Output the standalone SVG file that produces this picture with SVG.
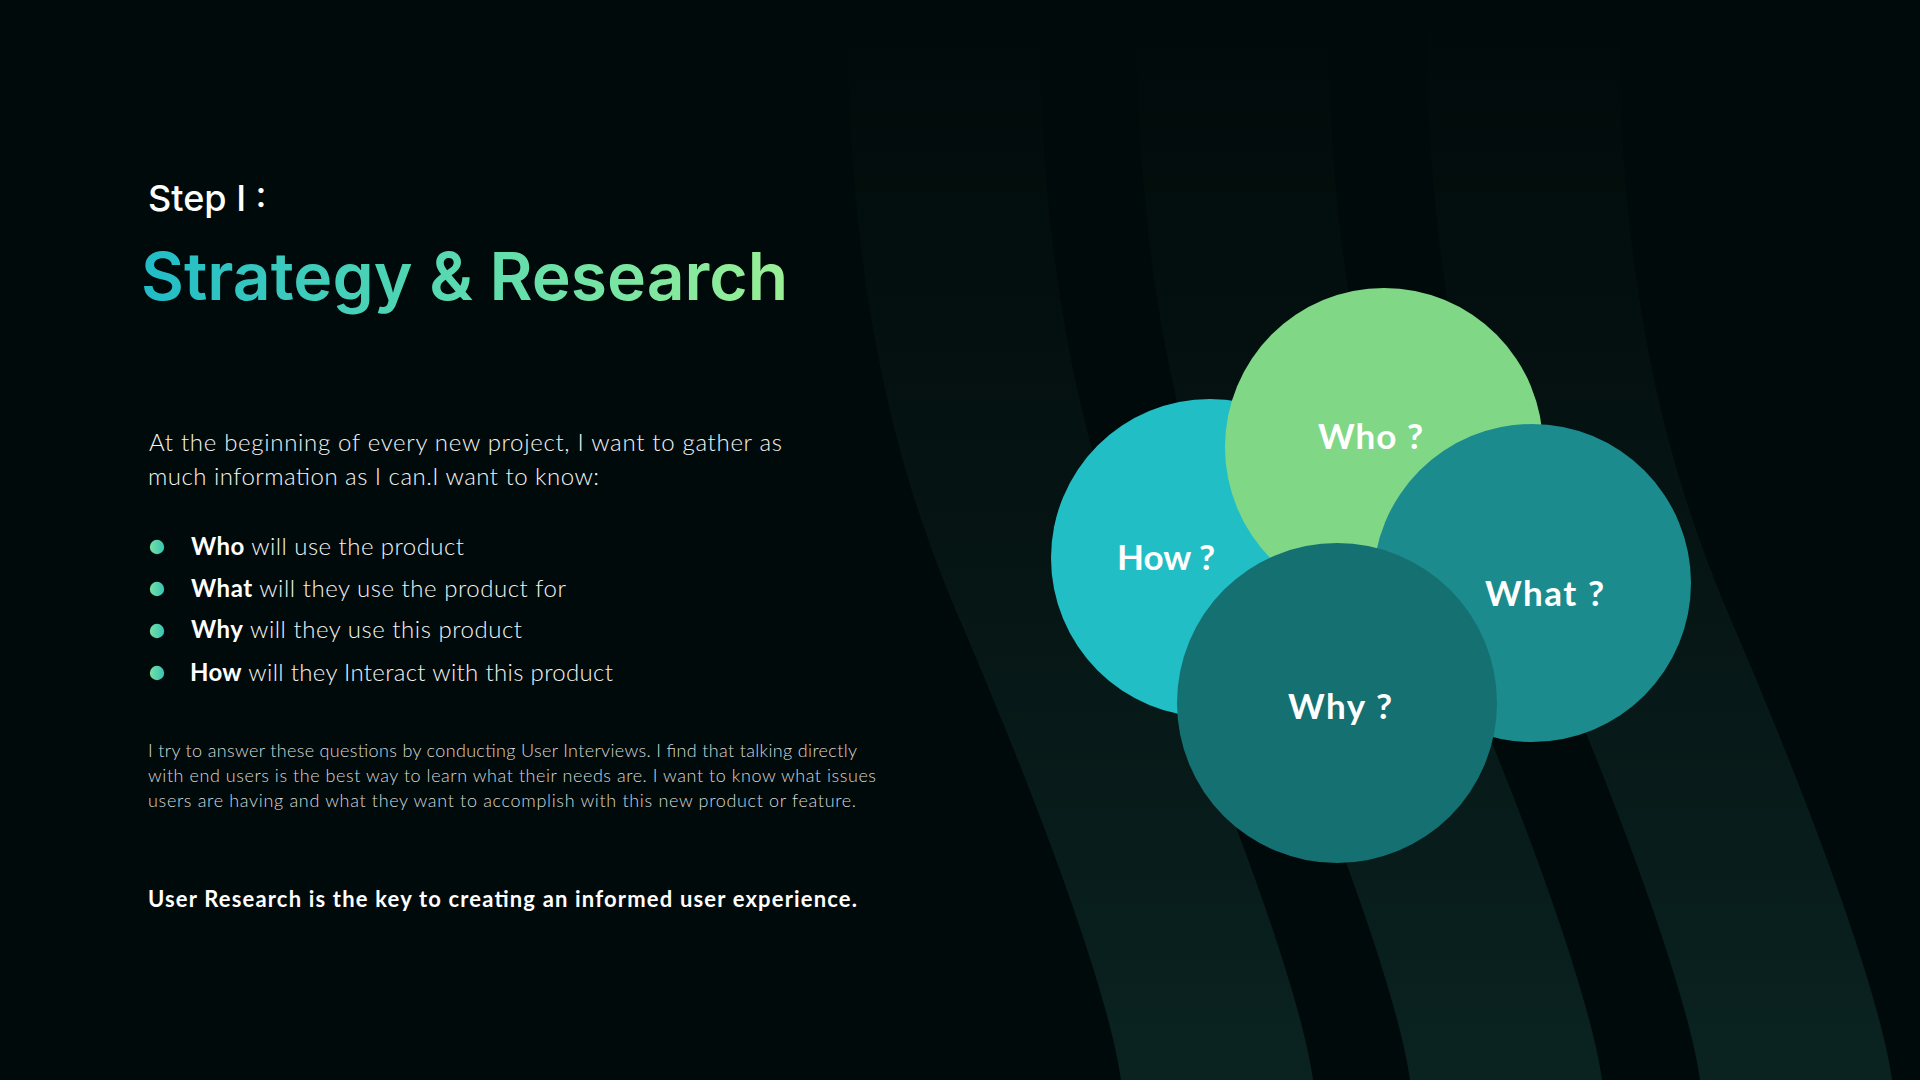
<svg xmlns="http://www.w3.org/2000/svg" width="1920" height="1080" viewBox="0 0 1920 1080">
  <defs>
    <linearGradient id="bandGrad" gradientUnits="userSpaceOnUse" x1="0" y1="0" x2="0" y2="1080">
      <stop offset="0" stop-color="#041110" stop-opacity="0"/>
      <stop offset="0.35" stop-color="#051312" stop-opacity="0.8"/>
      <stop offset="1" stop-color="#0a2321"/>
    </linearGradient>
    <linearGradient id="titleGrad" gradientUnits="userSpaceOnUse" x1="141" y1="0" x2="787" y2="0">
      <stop offset="0" stop-color="#20bcc8"/>
      <stop offset="0.5" stop-color="#5bdbaf"/>
      <stop offset="1" stop-color="#9af095"/>
    </linearGradient>
    <linearGradient id="dotGrad" x1="0" y1="0" x2="1" y2="0">
      <stop offset="0" stop-color="#78e0a4"/>
      <stop offset="1" stop-color="#35c4b6"/>
    </linearGradient>
    <path id="band" d="M847,-5 C847,300 900,480 960,620 C1050,830 1110,1000 1121,1080 L1123,1090 L1315,1090 L1313,1080 C1302,1000 1242,830 1152,620 C1092,480 1039,300 1039,-5 Z"/>
    <style>
      .bg { fill: #010a0a; }
      .band { fill: url(#bandGrad); }
      .step { font-family: Inter, "Liberation Sans", sans-serif; font-weight: 500; font-size: 36px; fill: #ffffff; }
      .title { font-family: Inter, "Liberation Sans", sans-serif; font-weight: 600; font-size: 66px; fill: url(#titleGrad); }
      .body { font-family: Lato, "Liberation Sans", sans-serif; font-weight: 300; font-size: 24px; fill: #f4f4f4; }
      .body .b { font-weight: 700; fill: #ffffff; }
      .small { font-family: Lato, "Liberation Sans", sans-serif; font-weight: 300; font-size: 18px; fill: #d8d8d8; }
      .key { font-family: Lato, "Liberation Sans", sans-serif; font-weight: 700; font-size: 22px; fill: #ffffff; }
      .dot { fill: url(#dotGrad); }
      .lbl { font-family: Lato, "Liberation Sans", sans-serif; font-weight: 700; font-size: 35px; fill: #ffffff; }
    </style>
  </defs>

  <rect class="bg" x="0" y="0" width="1920" height="1080"/>

  <g id="background-bands">
    <use href="#band" class="band"/>
    <use href="#band" class="band" transform="translate(289,0)"/>
    <use href="#band" class="band" transform="translate(579,0)"/>
  </g>

  <g id="heading">
    <text class="step" x="148" y="211">Step I :</text>
    <text class="title" x="141" y="300">Strategy &amp; Research</text>
  </g>

  <g id="intro">
    <text class="body" x="149" y="451" textLength="633">At the beginning of every new project, I want to gather as</text>
    <text class="body" x="148" y="485" textLength="451">much information as I can.I want to know:</text>
  </g>

  <g id="bullets">
    <circle class="dot" cx="157" cy="547" r="7.2"/>
    <circle class="dot" cx="157" cy="589" r="7.2"/>
    <circle class="dot" cx="157" cy="631" r="7.2"/>
    <circle class="dot" cx="157" cy="673" r="7.2"/>
    <text class="body" x="191" y="555" textLength="273"><tspan class="b">Who</tspan> will use the product</text>
    <text class="body" x="191" y="597" textLength="375"><tspan class="b">What</tspan> will they use the product for</text>
    <text class="body" x="191" y="638" textLength="331"><tspan class="b">Why</tspan> will they use this product</text>
    <text class="body" x="190" y="681" textLength="423"><tspan class="b">How</tspan> will they Interact with this product</text>
  </g>

  <g id="details">
    <text class="small" x="148" y="757" textLength="709">I try to answer these questions by conducting User Interviews. I find that talking directly</text>
    <text class="small" x="148" y="782" textLength="728">with end users is the best way to learn what their needs are. I want to know what issues</text>
    <text class="small" x="148" y="807" textLength="708">users are having and what they want to accomplish with this new product or feature.</text>
    <text class="key" x="148" y="907" textLength="709">User Research is the key to creating an informed user experience.</text>
  </g>

  <g id="node-how">
    <circle cx="1210" cy="558" r="159" fill="#22bec5"/>
    <text class="lbl" x="1117" y="570" textLength="98">How ?</text>
  </g>
  <g id="node-who">
    <circle cx="1384" cy="447" r="159" fill="#80d886"/>
    <text class="lbl" x="1318" y="449" textLength="105">Who ?</text>
  </g>
  <g id="node-what">
    <circle cx="1532" cy="583" r="159" fill="#1b8b8d"/>
    <text class="lbl" x="1485" y="606" textLength="119">What ?</text>
  </g>
  <g id="node-why">
    <circle cx="1337" cy="703" r="160" fill="#157072"/>
    <text class="lbl" x="1288" y="719" textLength="104">Why ?</text>
  </g>

  <g id="connectors"/>
</svg>
